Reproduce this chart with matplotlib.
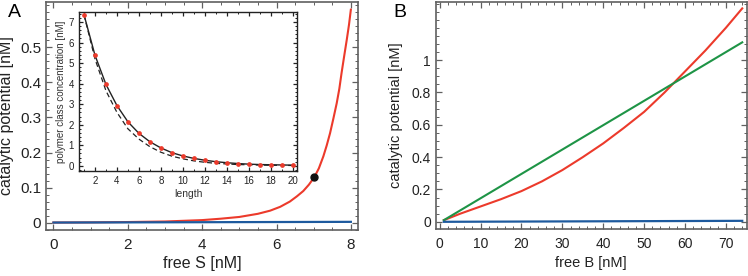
import matplotlib
matplotlib.use("Agg")
import matplotlib.pyplot as plt
from matplotlib.ticker import MultipleLocator, FuncFormatter

plt.rcParams['font.family'] = ['Liberation Sans', 'DejaVu Sans']

# Panel A: catalytic potential vs free S
s_free = [0, 1, 2, 3, 3.5, 4, 4.5, 5, 5.5, 5.83, 6.1, 6.36, 6.55, 6.72, 6.87, 7.02, 7.14,
          7.26, 7.35, 7.44, 7.53, 7.62, 7.69, 7.75, 7.82, 7.89, 7.95, 8.0]
pot_red_a = [0.0, 0.0005, 0.0015, 0.003, 0.005, 0.007, 0.011, 0.016, 0.025, 0.034, 0.045, 0.060,
             0.075, 0.090, 0.108, 0.130, 0.155, 0.189, 0.22, 0.255, 0.297, 0.341, 0.382, 0.427,
             0.475, 0.522, 0.565, 0.608]
s_blue = [0, 8]
pot_blue_a = [0.0, 0.002]
marked_s = [7.0]
marked_pot = [0.129]

# Inset: polymer class concentration vs length
length = list(range(1, 21))
conc_points = [7.35, 5.38, 3.96, 2.93, 2.14, 1.58, 1.17, 0.87, 0.64, 0.48,
               0.36, 0.27, 0.20, 0.15, 0.11, 0.08, 0.06, 0.05, 0.04, 0.03]
conc_dashed = [7.35, 5.2, 3.65, 2.6, 1.8, 1.3, 0.93, 0.66, 0.47, 0.34,
               0.24, 0.17, 0.12, 0.09, 0.06, 0.05, 0.035, 0.025, 0.02, 0.015]

# Panel B: catalytic potential vs free B
b_free = [1, 5, 10, 15, 20, 25, 30, 35, 40, 45, 50, 55, 60, 65, 70, 74]
pot_red_b = [0.01, 0.05, 0.095, 0.14, 0.19, 0.25, 0.32, 0.40, 0.485, 0.58, 0.68, 0.80, 0.93, 1.06, 1.20, 1.32]
b_line = [1, 74]
pot_green_b = [0.01, 1.11]
pot_blue_b = [0.0, 0.006]

RED = '#ec3a2b'
GREEN = '#1e9446'
BLUE = '#1d5a9e'
FRAME = '#606060'

fmt = FuncFormatter(lambda v, p: '%g' % round(v, 6))


def style_frame(ax, major_x, minor_x, major_y, minor_y, size, color=FRAME):
    ax.xaxis.set_major_locator(MultipleLocator(major_x))
    ax.xaxis.set_minor_locator(MultipleLocator(minor_x))
    ax.yaxis.set_major_locator(MultipleLocator(major_y))
    ax.yaxis.set_minor_locator(MultipleLocator(minor_y))
    ax.xaxis.set_major_formatter(fmt)
    ax.yaxis.set_major_formatter(fmt)
    ax.tick_params(which='both', direction='in', top=True, right=True, color=color,
                   labelsize=size, labelcolor='#222222')
    ax.tick_params(which='major', length=4, width=0.9)
    ax.tick_params(which='minor', length=2, width=0.7)
    for sp in ax.spines.values():
        sp.set_color(color)
        sp.set_linewidth(1.2)


fig = plt.figure(figsize=(7.48, 2.76), dpi=100)

# ----- Panel A -----
axA = fig.add_axes([0.0615, 0.167, 0.417, 0.826])
axA.plot(s_free, pot_red_a, color=RED, lw=1.5, zorder=2)
axA.plot(s_blue, pot_blue_a, color=BLUE, lw=1.6, zorder=3)
axA.plot(marked_s, marked_pot, 'o', color='#111111', ms=5, zorder=4)
axA.set_xlim(-0.2, 8.19)
axA.set_ylim(-0.021, 0.63)
style_frame(axA, 2, 0.5, 0.1, 0.02, 11)
axA.set_yticks([0, 0.1, 0.2, 0.3, 0.4, 0.5])
axA.tick_params(axis='x', pad=6)
axA.set_xlabel('free S [nM]', fontsize=11.5, color='#222222', labelpad=3)
axA.set_ylabel('catalytic potential [nM]', fontsize=11.5, color='#222222', labelpad=4)
fig.text(0.011, 0.985, 'A', fontsize=14, va='top', ha='left')

# inset
axI = fig.add_axes([0.1056, 0.380, 0.2914, 0.578])
axI.plot(length, conc_dashed, color='#222222', lw=0.9, ls=(0, (4, 2.5)), zorder=2)
axI.plot(length, conc_points, color='#222222', lw=1.0, zorder=3)
axI.plot(length, conc_points, 'o', color=RED, ms=2.4, zorder=4)
axI.set_xlim(0.54, 20.4)
axI.set_ylim(-0.26, 7.51)
style_frame(axI, 2, 1, 1, 0.2, 7, color='#222222')
axI.tick_params(which='major', length=3)
axI.tick_params(which='minor', length=1.5)
for sp in axI.spines.values():
    sp.set_linewidth(1.0)
axI.set_xlabel('length', fontsize=7.5, color='#333333', labelpad=2)
axI.set_ylabel('polymer class concentration [nM]', fontsize=7, color='#333333', labelpad=2)

# ----- Panel B -----
axB = fig.add_axes([0.5825, 0.170, 0.4158, 0.823])
axB.plot(b_free, pot_red_b, color=RED, lw=1.5, zorder=2)
axB.plot(b_line, pot_green_b, color=GREEN, lw=1.5, zorder=3)
axB.plot(b_line, pot_blue_b, color=BLUE, lw=1.6, zorder=4)
axB.set_xlim(-0.98, 75.1)
axB.set_ylim(-0.045, 1.36)
style_frame(axB, 10, 2, 0.2, 0.05, 10)
axB.set_yticks([0, 0.2, 0.4, 0.6, 0.8, 1.0])
axB.tick_params(axis='x', pad=6)
axB.set_xlabel('free B [nM]', fontsize=10.5, color='#222222', labelpad=3)
axB.set_ylabel('catalytic potential [nM]', fontsize=10.5, color='#222222', labelpad=6)
fig.text(0.526, 0.985, 'B', fontsize=14, va='top', ha='left')

fig.savefig('out.png', dpi=100)
